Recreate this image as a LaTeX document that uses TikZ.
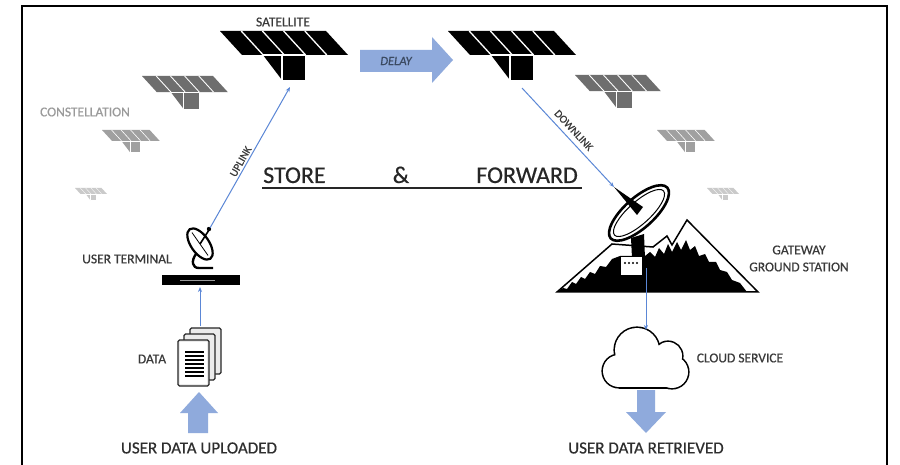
\documentclass[tikz,border=0pt]{standalone}
\usepackage{fontspec}
\setmainfont{Carlito}
\newfontfamily\lblfont[FakeBold=0.6]{Carlito}
\newfontfamily\headfont[FakeBold=0.5]{Carlito}
\usetikzlibrary{arrows.meta}

\definecolor{linkblue}{HTML}{5B87D6}
\definecolor{arrowblue}{HTML}{8FAADC}
\definecolor{labelgray}{HTML}{3A3A3A}
\definecolor{delaytext}{HTML}{3B4A62}
\definecolor{constgray}{HTML}{9A9A9A}
\definecolor{satmid}{HTML}{6E6E6E}
\definecolor{satlight}{HTML}{A0A0A0}
\definecolor{satfaint}{HTML}{CACACA}

% solar-panel satellite: top-left corner x, y, scale, colour
\newcommand{\solarsat}[4]{%
  \begin{scope}[shift={(#1,#2)}, scale=#3]
    \fill[#4] (0,0) -- (106,0) -- (128,24) -- (22,24) -- cycle;
    \fill[#4] (43,24) -- (62,24) -- (62,49) -- cycle;
    \fill[#4] (62,24) rectangle (85,49);
    \foreach \k in {1,2,3,4}
      \draw[white, line width=#3*1.3pt] ({106*\k/5},0) -- ({22+106*\k/5},24);
    \draw[white, line width=#3*1.3pt] (43,24) -- (85,24) (62,24) -- (62,49);
  \end{scope}}

\tikzset{
  lbl/.style={font=\lblfont\fontsize{13.5}{14}\selectfont, text=labelgray, inner sep=0pt},
  biglbl/.style={font=\headfont\fontsize{17}{18}\selectfont, text=black!82, inner sep=0pt},
  sflbl/.style={font=\headfont\fontsize{24}{26}\selectfont, text=black!85, inner sep=0pt},
  link/.style={draw=linkblue, line width=1pt, -{Stealth[length=5pt,width=4pt]}},
  blockarrow/.style={fill=arrowblue},
}

\begin{document}
\begin{tikzpicture}[x=1pt, y=-1pt]
\useasboundingbox (0,0) rectangle (900,465);
\fill[white] (0,0) rectangle (900,465);

% frame
\draw[line width=2pt] (22,465) -- (22,6) -- (887,6) -- (887,465);

% satellites
\solarsat{220}{31}{1}{black}
\solarsat{448}{31}{1}{black}
\solarsat{142}{76}{0.67}{satmid}
\solarsat{102}{130}{0.45}{satlight}
\solarsat{75}{188}{0.25}{satfaint}
\solarsat{575}{75}{0.67}{satmid}
\solarsat{657}{130}{0.45}{satlight}
\solarsat{707}{188}{0.25}{satfaint}

\node[lbl] (satlabel) at (283,22) {SATELLITE};
\node[lbl, text=constgray] (constlabel) at (85,112) {CONSTELLATION};

% delay arrow
\fill[blockarrow] (360,50) -- (432,50) -- (432,37) -- (453,60) -- (432,83) -- (432,72) -- (360,72) -- cycle;
\node[lbl, text=delaytext, font=\lblfont\fontsize{12.5}{13}\selectfont\itshape] (delay) at (396,61) {DELAY};

% store & forward
\node[sflbl, anchor=base west] (store) at (263,183) {STORE};
\node[sflbl, anchor=base] (amp) at (401,183) {\&};
\node[sflbl, anchor=base east] (forward) at (578,183) {FORWARD};
\draw[line width=2pt, black!85] (262,188) -- (582,188);

% ground station: mountain
\filldraw[fill=white, draw=black, line width=1.5pt, line join=miter]
  (557,292) -- (612,244) -- (653,247) -- (667,236) -- (672,245) -- (687,220) -- (758,292) -- cycle;
\fill[black] (557,292) -- (563,288) -- (567,289) -- (572,282) -- (576,284) -- (581,277)
  -- (585,279) -- (590,272) -- (595,274) -- (600,266) -- (606,267) -- (612,259) -- (620,256)
  -- (645,256) -- (650,252) -- (655,257) -- (659,248) -- (664,254) -- (668,244) -- (672,252)
  -- (677,242) -- (681,250) -- (686,240) -- (690,250) -- (695,246) -- (699,256) -- (705,254)
  -- (709,262) -- (716,262) -- (720,270) -- (727,272) -- (732,280) -- (740,283) -- (747,292) -- cycle;
% dish pedestal
\fill[black] (631,238) -- (644,234) -- (645,258) -- (632,258) -- cycle;
% dish
\begin{scope}[shift={(639,213)}, rotate=42]
  \filldraw[fill=white, draw=black, line width=2.6pt] (0,0) ellipse [x radius=38, y radius=15];
  \draw[line width=1pt] (0,0) ellipse [x radius=33, y radius=11];
\end{scope}
\fill[black] (614,187) -- (643,207) -- (637,215) -- cycle;
% station building
\filldraw[fill=white, draw=black, line width=1pt] (620,257) rectangle (642,276);
\foreach \dx in {0,4,8,12} \fill (625+\dx,263) circle (1.1);

\node[lbl, align=center, font=\lblfont\fontsize{13.5}{17}\selectfont] (gateway) at (799,258.5) {GATEWAY\\GROUND STATION};

% cloud
\begin{scope}
  \draw[line width=3.2pt] (619,371) circle (16) (672,372) circle (16) (637,350) circle (22) (668,356) circle (14);
  \draw[line width=3.2pt] (619,387) -- (672,387);
  \fill[white] (619,371) circle (16) (672,372) circle (16) (637,350) circle (22) (668,356) circle (14);
  \fill[white] (619,360) rectangle (672,387);
\end{scope}
\node[lbl] (cloudlabel) at (740,358) {CLOUD SERVICE};

% retrieve arrow
\fill[blockarrow] (637,390) -- (655,390) -- (655,412) -- (666,412) -- (646,433) -- (626,412) -- (637,412) -- cycle;
\node[biglbl] (retrieved) at (646,448) {USER DATA RETRIEVED};

% user terminal
\fill[black] (162,275) rectangle (240,285);
\draw[white!60!black, line width=0.4pt] (180,280) -- (215,280);
\draw[line width=2.4pt] (196,254) .. controls (191,261) and (192,268) .. (199,268) -- (213,268);
\begin{scope}[shift={(200,244)}, rotate=-55]
  \filldraw[fill=white, draw=black, line width=2.2pt] (0,0) ellipse [x radius=18, y radius=9];
  \draw[line width=0.8pt] (-14,0) -- (14,0);
\end{scope}
\draw[line width=1.6pt] (200,244) -- (209,230);
\fill (209,229) circle (2.2);
\node[lbl] (utlabel) at (127,259) {USER TERMINAL};

% data pages
\foreach \o in {12,6,0}
  \filldraw[fill=white!92!black, draw=black!85, line width=1.3pt, rounded corners=1.5pt]
    (178+\o,340-\o) rectangle (209+\o,386-\o);
\fill[white] (180,342) rectangle (207,384);
\foreach \yy in {352,356,360,364,368,372,376}
  \draw[line width=1.2pt] (185,\yy) -- (204,\yy);
\node[lbl] (datalabel) at (152,359) {DATA};

% upload arrow
\fill[blockarrow] (188,433) -- (188,413) -- (180,413) -- (199,392) -- (218,413) -- (208,413) -- (208,433) -- cycle;
\node[biglbl] (uploaded) at (199,448) {USER DATA UPLOADED};

% link end points
\coordinate (dataTop) at (200,326);
\coordinate (utBase) at (200,287);
\coordinate (utFeed) at (210,228);
\coordinate (sat1Port) at (290,87);
\coordinate (sat2Port) at (522,88);
\coordinate (gsFeed) at (614,187);
\coordinate (gsBase) at (646,268);
\coordinate (cloudTop) at (646,330);

% links
\draw[link] (dataTop) -- (utBase);
\draw[link] (utFeed) -- node[sloped, above=2pt, pos=0.45, lbl, font=\lblfont\fontsize{11}{12}\selectfont] (uplink) {UPLINK} (sat1Port);
\draw[link] (sat2Port) -- node[sloped, above=5pt, pos=0.49, lbl, font=\lblfont\fontsize{11}{12}\selectfont] (downlink) {DOWNLINK} (gsFeed);
\draw[link] (gsBase) -- (cloudTop);
\end{tikzpicture}
\end{document}
